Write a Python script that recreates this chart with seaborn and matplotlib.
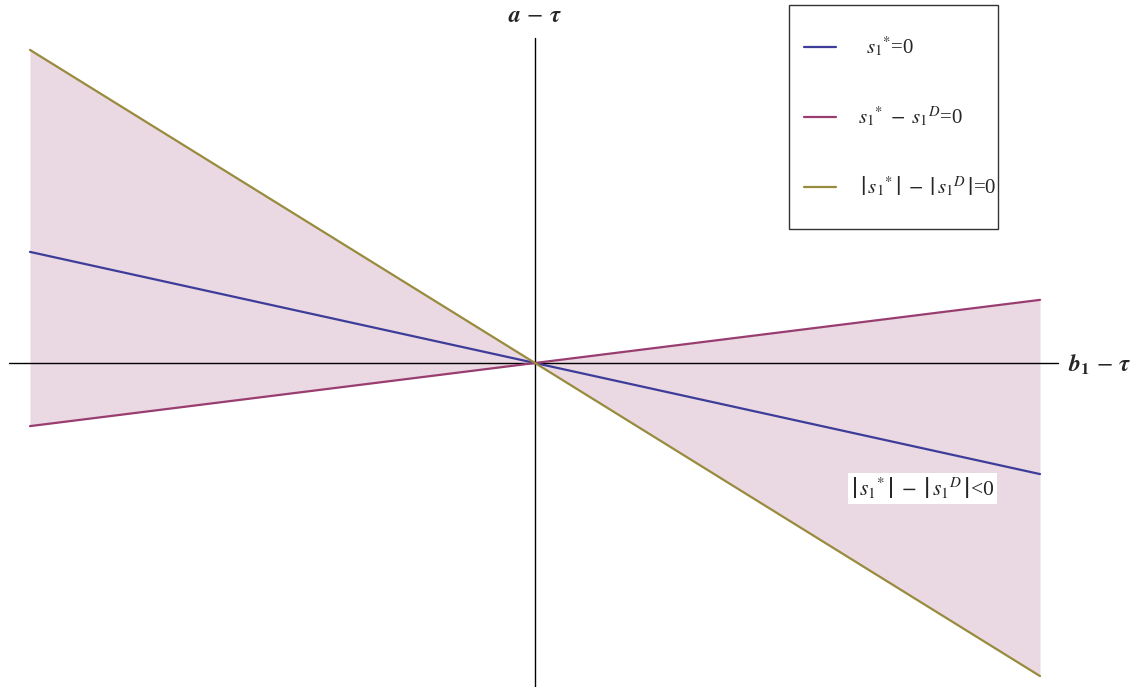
import matplotlib
matplotlib.use("Agg")
import matplotlib.pyplot as plt
import seaborn as sns
import pandas as pd
import numpy as np
from matplotlib.patches import Rectangle

sns.set_theme(style="white")
plt.rcParams['font.family'] = ['Liberation Serif', 'DejaVu Serif']
plt.rcParams['mathtext.fontset'] = 'stix'

# Data
x_vals = [-1.0, 1.0]
s_star = [0.22, -0.22]          # s1* = 0
s_diff = [-0.125, 0.125]        # s1* - s1^D = 0
s_abs = [0.62, -0.62]           # |s1*| - |s1^D| = 0

labels = [r'$s_1{}^{*}$=0',
          r'$s_1{}^{*}\;-\;s_1{}^{D}$=0',
          r'$\left|\,s_1{}^{*}\,\right|\;-\;\left|\,s_1{}^{D}\,\right|$=0']
colors = ['#3d3d99', '#993d71', '#998b3d']

df = pd.DataFrame({
    'x': x_vals * 3,
    'y': s_star + s_diff + s_abs,
    'curve': [labels[0]] * 2 + [labels[1]] * 2 + [labels[2]] * 2,
})

fig = plt.figure(figsize=(11.39, 6.87), dpi=100)
ax = fig.add_axes([0, 0, 1, 1])

ax.fill_between(x_vals, s_abs, s_diff, color='#993d71', alpha=0.2, linewidth=0, zorder=1)
sns.lineplot(data=df, x='x', y='y', hue='curve', palette=colors, ax=ax,
             linewidth=1.6, zorder=3, legend=False)

ax.set_xlim(-1.0594, 1.196)
ax.set_ylim(-0.6416, 0.7188)
ax.axis('off')

# axes through origin
ax.plot([-1.0416, 1.0356], [0, 0], color='black', lw=1.0, zorder=2)
ax.plot([0, 0], [0.6436, -0.6416], color='black', lw=1.0, zorder=2)

ax.text(0.0, 0.686, r'$\mathbfit{a}\,-\,\mathbfit{\tau}$', ha='center', va='center', fontsize=17)
ax.text(1.055, -0.004, r'$\mathbfit{b}_{\mathbf{1}}\,-\,\mathbfit{\tau}$', ha='left', va='center', fontsize=17)

ax.text(0.626, -0.248, r'$\left|\,s_1{}^{*}\,\right|\;-\;\left|\,s_1{}^{D}\,\right|$<0', ha='left', va='center',
        fontsize=15.5, bbox=dict(facecolor='white', edgecolor='none', pad=2), zorder=5)

# legend box
fig.patches.append(Rectangle((789 / 1139, 1 - 229 / 687), 209 / 1139, 224 / 687,
                             transform=fig.transFigure, facecolor='white', edgecolor='#333333', lw=1.0))
ys = [47, 117, 187]
xs_text = [866, 858, 860]
for lab, c, yy, xt in zip(labels, colors, ys, xs_text):
    fy = 1 - yy / 687
    fig.lines.append(plt.Line2D([804 / 1139, 836 / 1139], [fy, fy], transform=fig.transFigure,
                                color=c, lw=1.6))
    fig.text(xt / 1139, fy, lab, ha='left', va='center', fontsize=15)

fig.savefig('out.png', dpi=100)
